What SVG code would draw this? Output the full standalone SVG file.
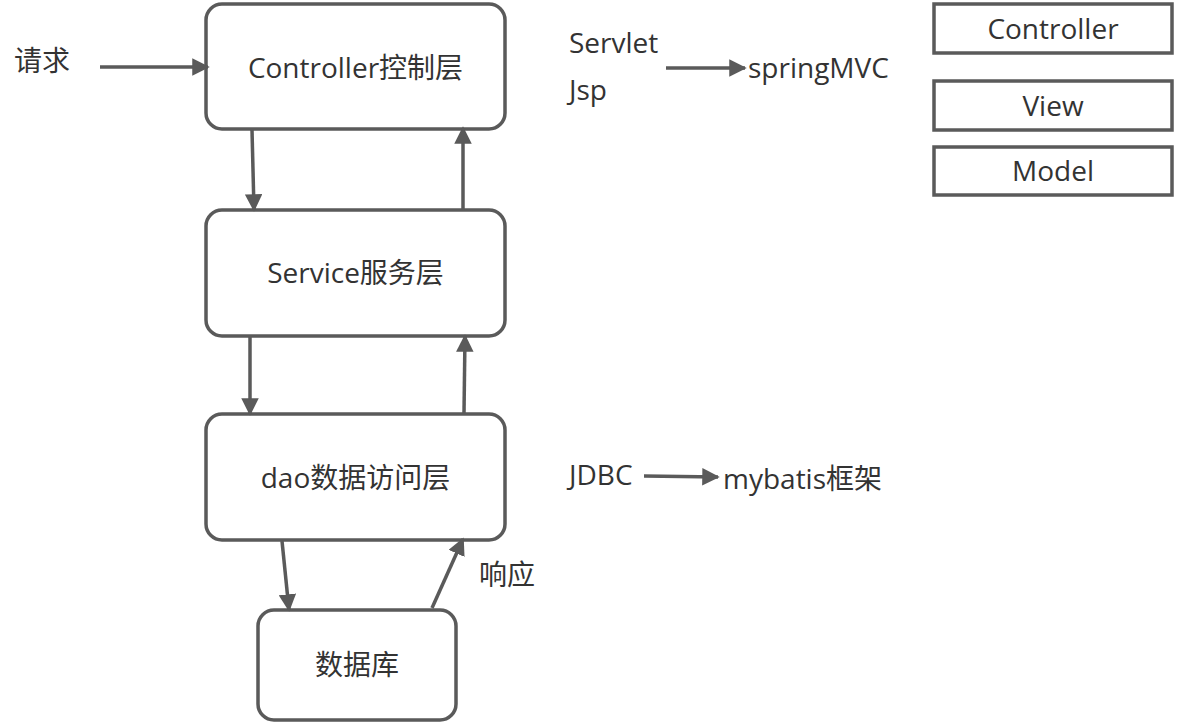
<svg xmlns="http://www.w3.org/2000/svg" width="1180" height="724" viewBox="0 0 1180 724">
<style>
.n{fill:#fff;stroke:#5a5a5a;stroke-width:3.5}
.t{font-family:"Open Sans","Noto Sans CJK SC",sans-serif;font-size:28px;fill:#333}
.c{stroke:#5a5a5a;stroke-width:3.5;fill:none;marker-end:url(#a)}
</style>
<defs>
<marker id="a" viewBox="0 0 10 10" refX="9" refY="5" markerWidth="5" markerHeight="5" markerUnits="strokeWidth" orient="auto">
<path d="M0,0L10,5L0,10z" fill="#5a5a5a"/>
</marker>
</defs>
<rect width="1180" height="724" fill="#fff"/>
<g id="controller"><rect class="n" x="206" y="4" width="299" height="125" rx="16"/><text class="t" x="355.5" y="78" text-anchor="middle">Controller控制层</text></g>
<g id="service"><rect class="n" x="206" y="210" width="299" height="126" rx="16"/><text class="t" x="355.5" y="283" text-anchor="middle">Service服务层</text></g>
<g id="dao"><rect class="n" x="206" y="414" width="299" height="126" rx="16"/><text class="t" x="355.5" y="488" text-anchor="middle">dao数据访问层</text></g>
<g id="db"><rect class="n" x="258" y="610" width="198" height="110" rx="16"/><text class="t" x="357" y="675" text-anchor="middle">数据库</text></g>
<g id="mvc-controller"><rect class="n" x="934" y="4" width="238" height="49"/><text class="t" x="1053" y="39" text-anchor="middle">Controller</text></g>
<g id="mvc-view"><rect class="n" x="934" y="81" width="238" height="49"/><text class="t" x="1053" y="116" text-anchor="middle">View</text></g>
<g id="mvc-model"><rect class="n" x="934" y="147" width="238" height="48"/><text class="t" x="1053" y="181" text-anchor="middle">Model</text></g>
<g id="labels">
<text class="t" x="14" y="71">请求</text>
<text class="t" x="569" y="53">Servlet</text>
<text class="t" x="569" y="100">Jsp</text>
<text class="t" x="748" y="78">springMVC</text>
<text class="t" x="569" y="485">JDBC</text>
<text class="t" x="723" y="489">mybatis框架</text>
<text class="t" x="479" y="585">响应</text>
</g>
<g id="connectors">
<path class="c" d="M100,67H208"/>
<path class="c" d="M252,130L254,210"/>
<path class="c" d="M463,210V128"/>
<path class="c" d="M250,337V414"/>
<path class="c" d="M464,413L465,336"/>
<path class="c" d="M282,541L289,610"/>
<path class="c" d="M432,608L463,539"/>
<path class="c" d="M666,68H745"/>
<path class="c" d="M644,476L718,477"/>
</g>
</svg>
